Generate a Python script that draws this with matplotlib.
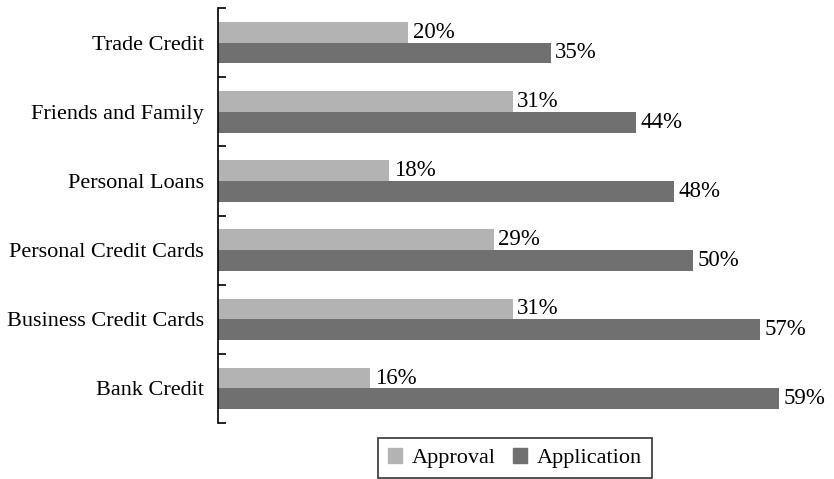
import numpy as np
import matplotlib.pyplot as plt
from matplotlib.patches import Patch

# Data
categories = ["Trade Credit", "Friends and Family", "Personal Loans",
              "Personal Credit Cards", "Business Credit Cards", "Bank Credit"]
approval = [20, 31, 18, 29, 31, 16]
application = [35, 44, 48, 50, 57, 59]

plt.rcParams["font.family"] = ["Liberation Serif", "DejaVu Serif"]

light = "#b3b3b3"
dark = "#707070"
fs = 16.5

fig = plt.figure(figsize=(8.34, 4.79), dpi=100)
# plot area: spine at x=218px, top 8px, bottom 423px, 9.5 px per percent
ax = fig.add_axes([218 / 834, 1 - 423 / 479, 616 / 834, 415 / 479])

y = np.arange(len(categories))
h = 0.3
b1 = ax.barh(y - h / 2, approval, height=h, color=light)
b2 = ax.barh(y + h / 2, application, height=h, color=dark)

for bars, vals in ((b1, approval), (b2, application)):
    for bar, v in zip(bars, vals):
        ax.text(bar.get_width() + 0.5, bar.get_y() + bar.get_height() / 2,
                f"{v}%", va="center", ha="left", fontsize=fs)

ax.set_xlim(0, 616 / 9.5)
ax.set_ylim(len(categories) - 0.5, -0.5)
ax.set_yticks(y)
ax.set_yticklabels(categories, fontsize=16)
ax.tick_params(axis="y", which="major", length=0, pad=10)
ax.set_yticks(np.arange(-0.5, len(categories)), minor=True)
ax.tick_params(axis="y", which="minor", direction="in", length=6, width=1.2)
ax.set_xticks([])
for s in ("top", "right", "bottom"):
    ax.spines[s].set_visible(False)
ax.spines["left"].set_linewidth(1.2)

handles = [Patch(color=light, label="Approval"), Patch(color=dark, label="Application")]
leg = fig.legend(handles=handles, loc="center", bbox_to_anchor=(515 / 834, 1 - 458 / 479),
                 ncol=2, fontsize=16, frameon=True, fancybox=False,
                 handlelength=0.63, handleheight=0.63, handletextpad=0.45,
                 columnspacing=0.75, borderpad=0.45, borderaxespad=0)
leg.get_frame().set_edgecolor("black")
leg.get_frame().set_linewidth(1.2)

fig.savefig("out.png", dpi=100)
